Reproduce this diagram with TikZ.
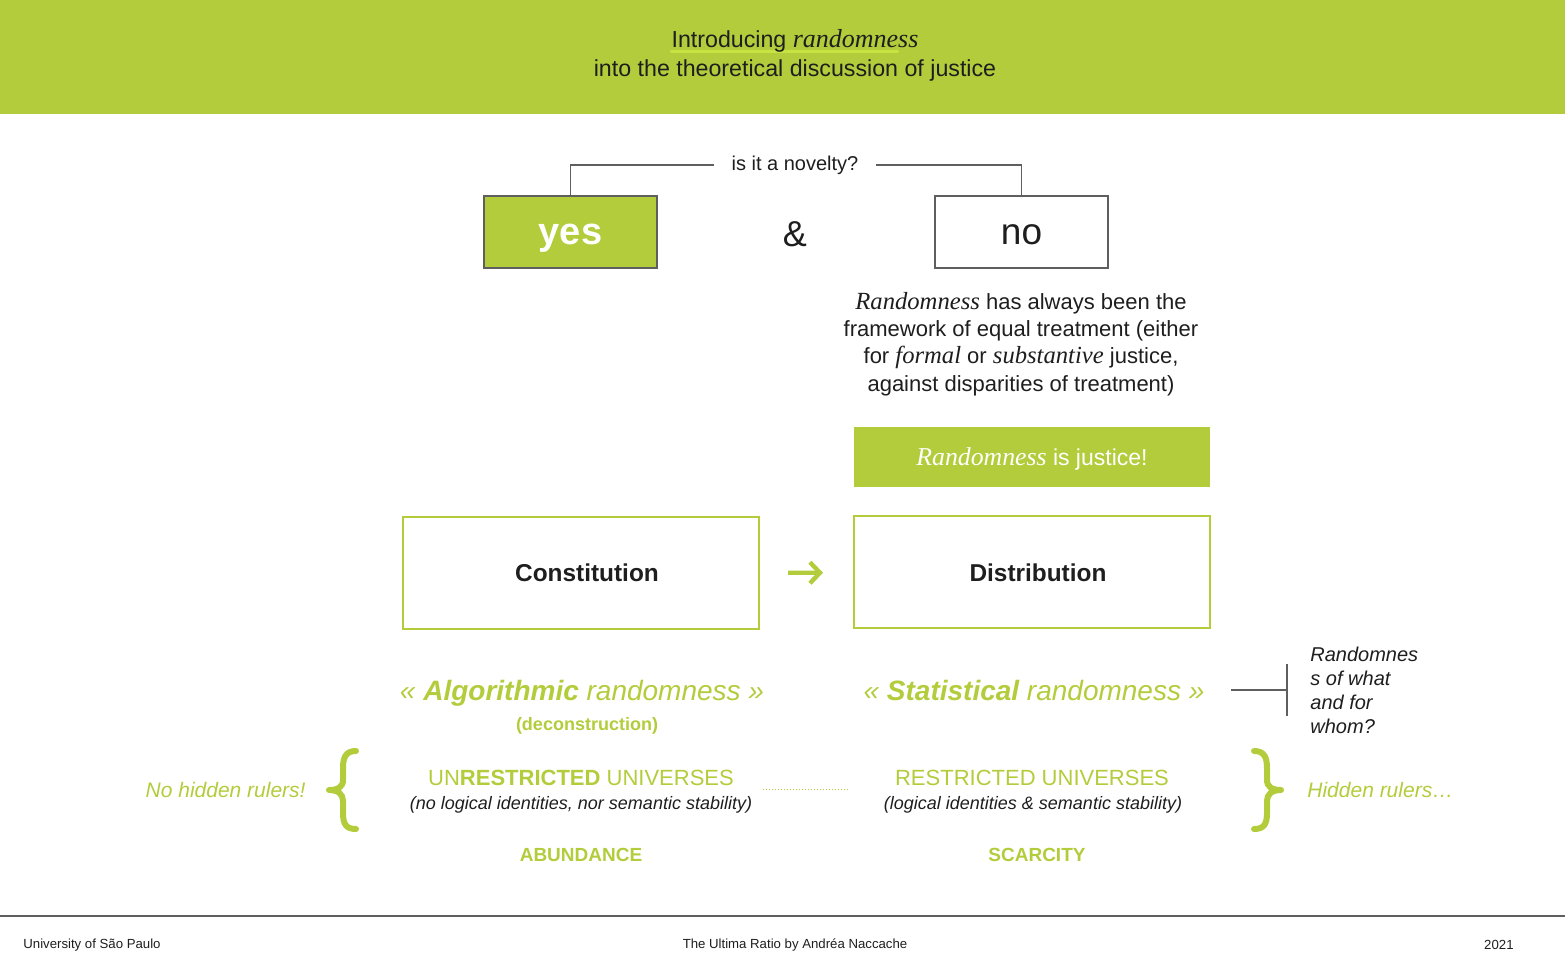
\documentclass[tikz,border=0pt]{standalone}
\usepackage{fontspec}
\setmainfont{Liberation Sans}
\newfontfamily\tms[Scale=1.12]{Liberation Serif}
\usetikzlibrary{arrows.meta}
\definecolor{lime}{RGB}{179,204,59}
\definecolor{limehi}{RGB}{200,226,66}
\definecolor{ink}{RGB}{30,30,30}
\definecolor{rulegray}{RGB}{95,95,95}
\newcommand{\rnd}[1]{{\tms\itshape #1}}
\begin{document}
\begin{tikzpicture}[x=0.5pt,y=-0.5pt,
  txt/.style={inner sep=0pt, text=ink, align=center},
  gtxt/.style={inner sep=0pt, text=lime, align=center},
  conn/.style={draw=rulegray, line width=0.7pt},
  answerbox/.style={minimum width=86.5pt, minimum height=36pt, inner sep=0pt, text depth=0pt, draw=rulegray, line width=0.6pt},
  framebox/.style={minimum width=178pt, minimum height=56pt, inner sep=0pt, draw=lime, line width=1pt},
  bracepath/.style={draw=lime, line width=3pt, line cap=round, line join=round},
  garrow/.style={draw=lime, line width=2.2pt, -{Straight Barb[length=5pt,width=10.5pt]}}
]
\useasboundingbox (0,0) rectangle (1565,978);
% header
\fill[lime] (0,0) rectangle (1565,114);
\coordinate (hl1) at (671,51.5);
\coordinate (hl2) at (898,51.5);
\draw[limehi, line width=1.3pt, line cap=round] (hl1) -- (hl2);
\node[txt, font=\fontsize{11.6}{14.5}\selectfont] (title) at (795,55)
  {Introducing \rnd{randomness}\\into the theoretical discussion of justice};

% question
\node[txt, inner xsep=8.5pt, font=\fontsize{10}{12}\selectfont] (nov) at (795,165) {is it a novelty?};
\node[answerbox, fill=lime, text=white, font=\fontsize{19}{22}\selectfont\bfseries] (yes) at (570.5,232) {\raisebox{-2.2pt}{yes}};
\node[answerbox, fill=white, text=ink, font=\fontsize{18.5}{22}\selectfont] (no) at (1021.5,232) {\raisebox{-2.2pt}{no}};
\node[txt, font=\fontsize{18}{22}\selectfont] (amp) at (795,234) {\&};
\draw[conn] (nov.west) -| (yes.north);
\draw[conn] (nov.east) -| (no.north);

% paragraph
\node[txt, font=\fontsize{11}{13.6}\selectfont] (para) at (1021,344)
  {\rnd{Randomness} has always been the\\framework of equal treatment (either\\for \rnd{formal} or \rnd{substantive} justice,\\against disparities of treatment)};

\node[minimum width=178pt, minimum height=30pt, inner sep=0pt, text depth=0pt, fill=lime, text=white,
  font=\fontsize{11.5}{14}\selectfont] (just) at (1032,457) {\rnd{Randomness} is justice!};

% constitution / distribution
\node[framebox, font=\fontsize{12.2}{14}\selectfont\bfseries, text=ink] (con) at (581,573) {\hspace*{6pt}Constitution};
\node[framebox, font=\fontsize{12.2}{14}\selectfont\bfseries, text=ink] (dist) at (1032,572.5) {\hspace*{6pt}Distribution};
\draw[garrow, shorten <=14pt, shorten >=15pt] (con) -- (dist);

% randomness kinds
\node[gtxt, anchor=base, font=\fontsize{14}{16}\selectfont\itshape] (alg) at (582,701) {« \textbf{Algorithmic} randomness »};
\node[gtxt, font=\fontsize{9}{11}\selectfont\bfseries] (dec) at (587,726) {(deconstruction)};
\node[gtxt, anchor=base, font=\fontsize{14}{16}\selectfont\itshape] (stat) at (1034,701) {« \textbf{Statistical} randomness »};

\node[txt, anchor=west, align=left, font=\fontsize{10}{12}\selectfont\itshape] (whom) at (1310,690)
  {Randomnes\\s of what\\and for\\whom?};
\coordinate (bt) at (1287,664);
\coordinate (bb) at (1287,716);
\coordinate (bm) at (1287,690);
\coordinate (sm) at (1231,690);
\draw[conn] (bt) -- (bb);
\draw[conn] (sm) -- (bm);

% universes
\node[gtxt, font=\fontsize{11}{13}\selectfont] (unr) at (581,778) {UN\textbf{RESTRICTED} UNIVERSES};
\node[txt, font=\fontsize{9}{11}\selectfont\itshape] (unrs) at (581,805) {(no logical identities, nor semantic stability)};
\node[gtxt, font=\fontsize{11}{13}\selectfont] (res) at (1032,778) {RESTRICTED UNIVERSES};
\node[txt, font=\fontsize{9}{11}\selectfont\itshape] (ress) at (1033,805) {(logical identities \& semantic stability)};
\coordinate (dl) at (763,789);
\coordinate (dr) at (849,789);
\draw[lime, line width=0.5pt, dash pattern=on 0.6pt off 0.9pt] (dl) -- (dr);

\node[gtxt, font=\fontsize{9.5}{11}\selectfont\bfseries] (abund) at (581,855) {ABUNDANCE};
\node[gtxt, font=\fontsize{9.5}{11}\selectfont\bfseries] (scarc) at (1037,855) {SCARCITY};

% braces
\draw[bracepath] (356,751) .. controls (346,751) and (343,757) .. (343,768)
  -- (343,780) .. controls (343,787) and (338,790) .. (329,790)
  .. controls (338,790) and (343,794) .. (343,801)
  -- (343,813) .. controls (343,824) and (346,829) .. (356,829);
\begin{scope}[xshift=805pt, xscale=-1]
\draw[bracepath] (356,751) .. controls (346,751) and (343,757) .. (343,768)
  -- (343,780) .. controls (343,787) and (338,790) .. (329,790)
  .. controls (338,790) and (343,794) .. (343,801)
  -- (343,813) .. controls (343,824) and (346,829) .. (356,829);
\end{scope}
\node[gtxt, anchor=east, font=\fontsize{10.5}{12}\selectfont\itshape] (nhr) at (306,790) {No hidden rulers!};
\node[gtxt, anchor=west, font=\fontsize{10.5}{12}\selectfont\itshape] (hr) at (1307,790) {Hidden rulers…};

% footer
\coordinate (fl) at (0,916);
\coordinate (fr) at (1565,916);
\draw[rulegray, line width=0.6pt] (fl) -- (fr);
\node[txt, anchor=west, font=\fontsize{6.6}{8}\selectfont] (univ) at (23,945) {University of São Paulo};
\node[txt, font=\fontsize{6.6}{8}\selectfont] (auth) at (795,945) {The Ultima Ratio by Andréa Naccache};
\node[txt, anchor=east, font=\fontsize{6.6}{8}\selectfont] (year) at (1514,945) {2021};
\end{tikzpicture}
\end{document}
